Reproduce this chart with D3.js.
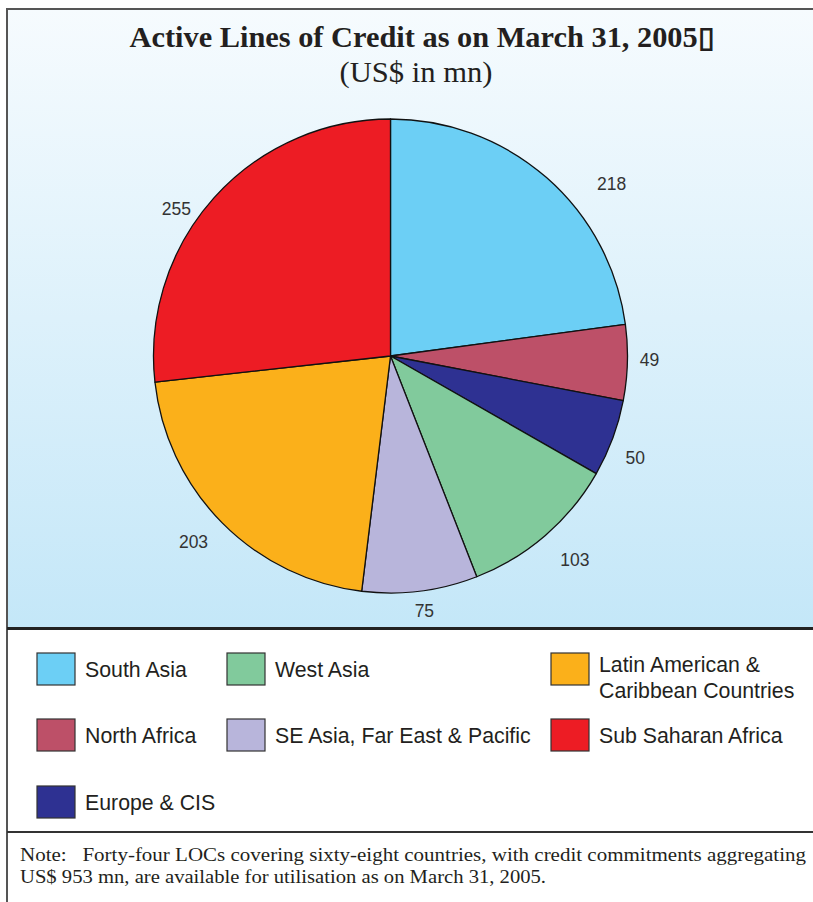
<!DOCTYPE html>
<html>
<head>
<meta charset="utf-8">
<script src="https://cdn.jsdelivr.net/npm/d3@7"></script>
<style>
  html, body { margin: 0; padding: 0; background: #ffffff; }
  svg { display: block; }
</style>
</head>
<body>
<script>
// Active lines of credit by region, US$ mn (clockwise from 12 o'clock)
const regions = ["South Asia", "North Africa", "Europe & CIS", "West Asia",
  "SE Asia, Far East & Pacific", "Latin American & Caribbean Countries", "Sub Saharan Africa"];
const amounts = [218, 49, 50, 103, 75, 203, 255];
const sliceColors = ["#6ccff5", "#bd5068", "#2e3192", "#81ca9c", "#b8b5db", "#fbb01a", "#ed1c24"];

// Legend layout: three columns, entries listed row by row
const legendOrder = ["South Asia", "West Asia", "Latin American & Caribbean Countries",
  "North Africa", "SE Asia, Far East & Pacific", "Sub Saharan Africa", "Europe & CIS"];
const legendLines = {
  "Latin American & Caribbean Countries": ["Latin American &", "Caribbean Countries"]
};

const titleText = "Active Lines of Credit as on March 31, 2005\u25AF";
const subtitleText = "(US$ in mn)";
const noteLines = [
  "Note:   Forty-four LOCs covering sixty-eight countries, with credit commitments aggregating",
  "US$ 953 mn, are available for utilisation as on March 31, 2005."
];
const noteWidths = [786, 526];

// Value label placement: angular nudge (degrees) and radius for each slice
const labelNudge = [
  { da: 11, r: 280 }, { da: -0.7, r: 259 }, { da: 2.3, r: 265 }, { da: -1.3, r: 275 },
  { da: -0.4, r: 257 }, { da: 1.3, r: 271 }, { da: -7.3, r: 260 }
];

const W = 813, H = 902;
const svg = d3.select("body").append("svg").attr("width", W).attr("height", H);

// Background gradient of the chart panel
const defs = svg.append("defs");
const grad = defs.append("linearGradient").attr("id", "panel")
  .attr("x1", 0).attr("y1", 0).attr("x2", 0).attr("y2", 1);
grad.append("stop").attr("offset", "0%").attr("stop-color", "#f6fbfe");
grad.append("stop").attr("offset", "100%").attr("stop-color", "#c4e7f8");

svg.append("rect").attr("x", 7).attr("y", 9).attr("width", W).attr("height", 619)
  .attr("fill", "url(#panel)");

// Frame lines
svg.append("line").attr("x1", 7).attr("x2", W).attr("y1", 9).attr("y2", 9)
  .attr("stroke", "#555").attr("stroke-width", 2);
svg.append("line").attr("x1", 7).attr("x2", 7).attr("y1", 8).attr("y2", H)
  .attr("stroke", "#555").attr("stroke-width", 2);
svg.append("line").attr("x1", 7).attr("x2", W).attr("y1", 628.5).attr("y2", 628.5)
  .attr("stroke", "#222").attr("stroke-width", 3);
svg.append("line").attr("x1", 7).attr("x2", W).attr("y1", 832).attr("y2", 832)
  .attr("stroke", "#333").attr("stroke-width", 2);

// Titles
svg.append("text").attr("x", 422).attr("y", 47).attr("text-anchor", "middle")
  .attr("font-family", "Liberation Serif, serif").attr("font-weight", "bold")
  .attr("font-size", 29).attr("fill", "#231f20")
  .attr("textLength", 585).attr("lengthAdjust", "spacingAndGlyphs")
  .text(titleText);
svg.append("text").attr("x", 416).attr("y", 82).attr("text-anchor", "middle")
  .attr("font-family", "Liberation Serif, serif")
  .attr("font-size", 29).attr("fill", "#231f20")
  .attr("textLength", 153).attr("lengthAdjust", "spacingAndGlyphs")
  .text(subtitleText);

// Pie
const cx = 390.5, cy = 356, R = 237;
const color = d3.scaleOrdinal().domain(regions).range(sliceColors);
const pie = d3.pie().sort(null).value(i => amounts[i]);
const arcs = pie(d3.range(regions.length));
const arc = d3.arc().innerRadius(0).outerRadius(R);

const g = svg.append("g").attr("transform", `translate(${cx},${cy})`);
g.selectAll("path.slice").data(arcs).join("path")
  .attr("class", "slice")
  .attr("d", arc)
  .attr("fill", d => color(regions[d.data]))
  .attr("stroke", "#111").attr("stroke-width", 1.3).attr("stroke-linejoin", "round");

g.selectAll("text.val").data(arcs).join("text")
  .attr("class", "val")
  .attr("x", d => {
    const n = labelNudge[d.index];
    const a = (d.startAngle + d.endAngle) / 2 + n.da * Math.PI / 180;
    return n.r * Math.sin(a);
  })
  .attr("y", d => {
    const n = labelNudge[d.index];
    const a = (d.startAngle + d.endAngle) / 2 + n.da * Math.PI / 180;
    return -n.r * Math.cos(a);
  })
  .attr("dy", "0.35em")
  .attr("text-anchor", "middle")
  .attr("font-family", "Liberation Sans, Arial, sans-serif")
  .attr("font-size", 17.5).attr("fill", "#333")
  .text(d => amounts[d.data]);

// Legend
const colX = [37, 227, 551];
const rowY = [653, 719, 786];
const lg = svg.append("g");
legendOrder.forEach((name, i) => {
  const x = colX[i % 3], y = rowY[Math.floor(i / 3)];
  lg.append("rect").attr("x", x).attr("y", y).attr("width", 38).attr("height", 32)
    .attr("fill", color(name)).attr("stroke", "#333").attr("stroke-width", 1.2);
  const lines = legendLines[name] || [name];
  const t = lg.append("text").attr("font-family", "Liberation Sans, Arial, sans-serif")
    .attr("font-size", 21.3).attr("fill", "#231f20");
  if (lines.length === 1) {
    t.append("tspan").attr("x", x + 48).attr("y", y + 24).text(lines[0]);
  } else {
    lines.forEach((l, k) => t.append("tspan").attr("x", x + 48).attr("y", y + 19 + k * 26).text(l));
  }
});

// Footnote
noteLines.forEach((l, k) => {
  svg.append("text").attr("x", 20).attr("y", 861 + k * 22)
    .attr("font-family", "Liberation Serif, serif").attr("font-size", 18)
    .attr("fill", "#231f20").style("white-space", "pre")
    .attr("textLength", noteWidths[k]).attr("lengthAdjust", "spacingAndGlyphs")
    .text(l);
});
</script>
</body>
</html>
